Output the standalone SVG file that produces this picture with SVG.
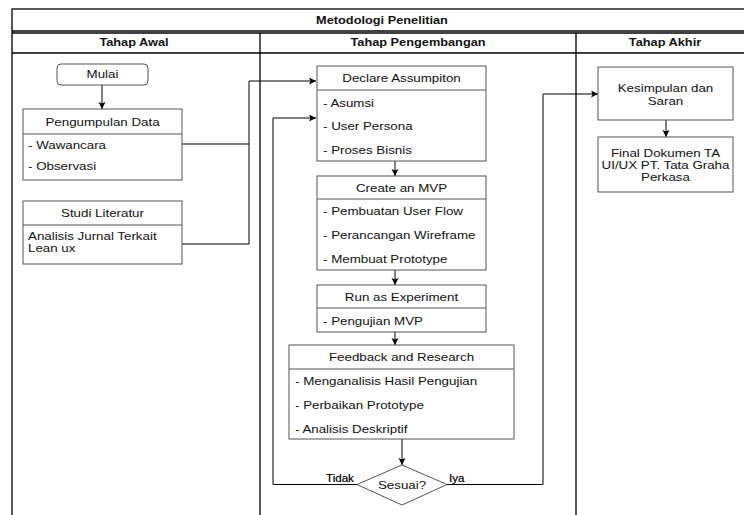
<svg xmlns="http://www.w3.org/2000/svg" width="744" height="515" viewBox="0 0 744 515">
  <style>
    text { font-family: "Liberation Sans", Arial, sans-serif; fill: #111; }
    .b { font-size: 11px; font-weight: bold; text-anchor: middle; }
    .c { font-size: 11.5px; text-anchor: middle; }
    .l { font-size: 11.5px; }
    .e { font-size: 10px; fill: #000; stroke: #000; stroke-width: 0.2; }
    .frame { fill: none; stroke: #000; stroke-width: 1.3; }
    .box { fill: #fff; stroke: #555; stroke-width: 1; }
    .sep { stroke: #555; stroke-width: 1; }
    .wire { fill: none; stroke: #000; stroke-width: 1; }
    .arr { marker-end: url(#head); }
  </style>
  <defs>
    <marker id="head" markerUnits="userSpaceOnUse" markerWidth="8" markerHeight="8" refX="7" refY="3.5" orient="auto">
      <path d="M0,0 L7,3.5 L0,7 L1.5,3.5 z" fill="#000"/>
    </marker>
  </defs>

  <rect width="744" height="515" fill="#fff"/>

  <!-- pool with three lanes -->
  <g id="pool">
    <rect class="frame" x="12" y="9" width="740" height="515"/>
    <line class="frame" x1="12" y1="31" x2="752" y2="31"/>
    <line class="frame" x1="12" y1="33" x2="752" y2="33"/>
    <line class="frame" x1="12" y1="53" x2="752" y2="53"/>
    <line class="frame" x1="260" y1="33" x2="260" y2="520"/>
    <line class="frame" x1="576" y1="33" x2="576" y2="520"/>
    <text class="b" transform="translate(382,23.5) scale(1.16,1)">Metodologi Penelitian</text>
    <text class="b" transform="translate(134,46) scale(1.16,1)">Tahap Awal</text>
    <text class="b" transform="translate(418,46) scale(1.16,1)">Tahap Pengembangan</text>
    <text class="b" transform="translate(665,46) scale(1.16,1)">Tahap Akhir</text>
  </g>

  <!-- connectors -->
  <g id="connectors">
    <path class="wire arr" d="M102,85 V109"/>
    <path class="wire arr" d="M182,144 H249 V81 H316"/>
    <path class="wire" d="M182,244 H249 V144"/>
    <path class="wire arr" d="M395,161 V176"/>
    <path class="wire arr" d="M395,270 V285"/>
    <path class="wire arr" d="M395,332 V345"/>
    <path class="wire arr" d="M402,439 V465"/>
    <path class="wire arr" d="M357,484.5 H273 V118 H316"/>
    <path class="wire arr" d="M447,484.5 H543 V94 H598"/>
    <path class="wire arr" d="M666,120 V137"/>
    <text class="e" transform="translate(326,482) scale(1.16,1)">Tidak</text>
    <text class="e" transform="translate(449,482) scale(1.16,1)">Iya</text>
  </g>

  <g id="mulai">
    <rect class="box" x="57" y="64" width="91" height="21" rx="4"/>
    <text class="c" transform="translate(102.5,78) scale(1.16,1)">Mulai</text>
  </g>

  <g id="pengumpulan-data">
    <rect class="box" x="23" y="109" width="159" height="71"/>
    <line class="sep" x1="23" y1="134" x2="182" y2="134"/>
    <text class="c" transform="translate(102.5,125.5) scale(1.16,1)">Pengumpulan Data</text>
    <text class="l" transform="translate(28,149) scale(1.16,1)">- Wawancara</text>
    <text class="l" transform="translate(28,169.5) scale(1.16,1)">- Observasi</text>
  </g>

  <g id="studi-literatur">
    <rect class="box" x="23" y="201" width="159" height="63"/>
    <line class="sep" x1="23" y1="225" x2="182" y2="225"/>
    <text class="c" transform="translate(102.5,217) scale(1.16,1)">Studi Literatur</text>
    <text class="l" transform="translate(28,240) scale(1.16,1)">Analisis Jurnal Terkait</text>
    <text class="l" transform="translate(28,252) scale(1.16,1)">Lean ux</text>
  </g>

  <g id="declare-assumption">
    <rect class="box" x="317" y="66" width="169" height="95"/>
    <line class="sep" x1="317" y1="90" x2="486" y2="90"/>
    <text class="c" transform="translate(401.5,82) scale(1.16,1)">Declare Assumpiton</text>
    <text class="l" transform="translate(323,106.5) scale(1.16,1)">- Asumsi</text>
    <text class="l" transform="translate(323,130) scale(1.16,1)">- User Persona</text>
    <text class="l" transform="translate(323,154) scale(1.16,1)">- Proses Bisnis</text>
  </g>

  <g id="create-mvp">
    <rect class="box" x="317" y="176" width="169" height="94"/>
    <line class="sep" x1="317" y1="199" x2="486" y2="199"/>
    <text class="c" transform="translate(401.5,191.5) scale(1.16,1)">Create an MVP</text>
    <text class="l" transform="translate(323,215) scale(1.16,1)">- Pembuatan User Flow</text>
    <text class="l" transform="translate(323,239) scale(1.16,1)">- Perancangan Wireframe</text>
    <text class="l" transform="translate(323,263) scale(1.16,1)">- Membuat Prototype</text>
  </g>

  <g id="run-experiment">
    <rect class="box" x="317" y="285" width="169" height="47"/>
    <line class="sep" x1="317" y1="308" x2="486" y2="308"/>
    <text class="c" transform="translate(401.5,300.5) scale(1.16,1)">Run as Experiment</text>
    <text class="l" transform="translate(323,324.5) scale(1.16,1)">- Pengujian MVP</text>
  </g>

  <g id="feedback-research">
    <rect class="box" x="289" y="345" width="225" height="94"/>
    <line class="sep" x1="289" y1="369" x2="514" y2="369"/>
    <text class="c" transform="translate(401.5,360.5) scale(1.16,1)">Feedback and Research</text>
    <text class="l" transform="translate(295,385) scale(1.16,1)">- Menganalisis Hasil Pengujian</text>
    <text class="l" transform="translate(295,409) scale(1.16,1)">- Perbaikan Prototype</text>
    <text class="l" transform="translate(295,433) scale(1.16,1)">- Analisis Deskriptif</text>
  </g>

  <g id="sesuai">
    <polygon class="box" points="402,465 447,484.5 402,505 357,484.5"/>
    <text class="c" transform="translate(402,489) scale(1.16,1)">Sesuai?</text>
  </g>

  <g id="kesimpulan-saran">
    <rect class="box" x="598" y="67" width="135" height="53"/>
    <text class="c" transform="translate(665.5,91.5) scale(1.16,1)">Kesimpulan dan</text>
    <text class="c" transform="translate(665.5,105) scale(1.16,1)">Saran</text>
  </g>

  <g id="final-dokumen">
    <rect class="box" x="598" y="137" width="135" height="55"/>
    <text class="c" transform="translate(665.5,156.5) scale(1.16,1)">Final Dokumen TA</text>
    <text class="c" transform="translate(665.5,168.5) scale(1.16,1)">UI/UX PT. Tata Graha</text>
    <text class="c" transform="translate(665.5,180.5) scale(1.16,1)">Perkasa</text>
  </g>
</svg>
